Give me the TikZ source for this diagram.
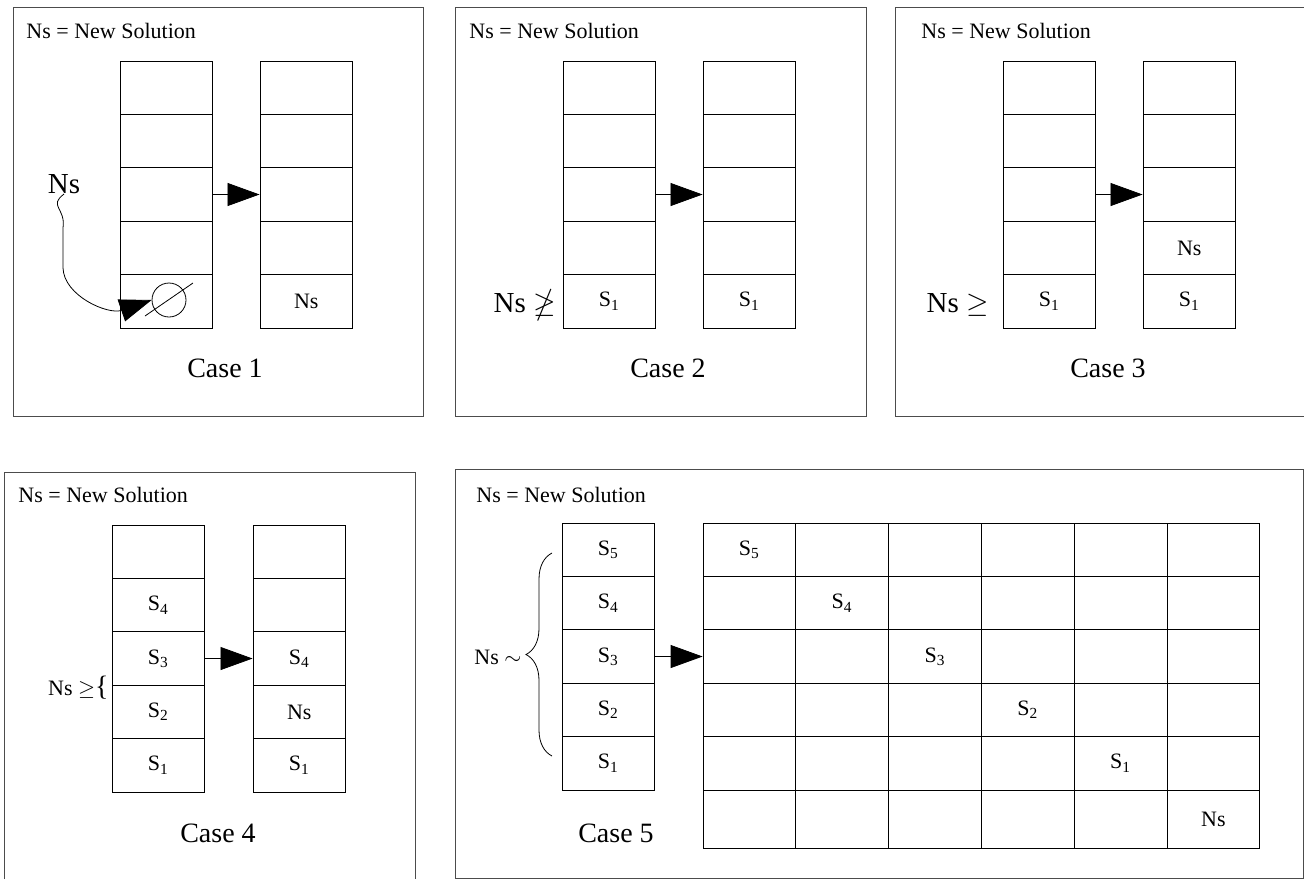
\documentclass[tikz,border=0pt]{standalone}
\usepackage{amssymb}
\usepackage{fontspec}
\setmainfont{Liberation Serif}
\usetikzlibrary{arrows.meta}
\usetikzlibrary{decorations.pathreplacing}
\tikzset{cell/.style = {draw, rectangle, minimum width = 46.3pt, minimum height = 26.7pt,
                        inner sep = 0, font = \fontsize{11}{13}\selectfont}}
\tikzset{gridcell/.style = {cell, minimum width = 46.4pt}}
\tikzset{lastcell/.style = {gridcell, minimum height = 29pt}}
\tikzset{panel/.style = {draw = black!70, line width = 0.5pt}}
\tikzset{bigarrow/.style = {-{Triangle[length = 16pt, width = 11.5pt]}}}
\tikzset{head/.style = {anchor = base west, inner sep = 0, font = \fontsize{11}{13}\selectfont}}
\tikzset{case/.style = {anchor = base, inner sep = 0, font = \fontsize{14}{16}\selectfont}}
\tikzset{bigtxt/.style = {inner sep = 0, font = \fontsize{14.5}{17}\selectfont}}
\newcommand{\Sx}[1]{S\textsubscript{#1}}
\newcommand{\stackcol}[4]{%
  \foreach \lbl [count = \i] in {#4}
    \node [cell] (#1-\i) at ({#2 + 46.25}, {#3 + (\i - 0.5) * 53.4}) {\lbl};
}

\begin{document}
\begin{tikzpicture}[x = 0.5pt, y = -0.5pt]
           \useasboundingbox (0, 0) rectangle (1304, 879);

           % frames
           \draw [panel] (13, 7) rectangle (423, 416);
           \draw [panel] (455, 7) rectangle (866, 416);
           \draw [panel] (1304, 7) -- (895, 7) -- (895, 416) -- (1304, 416);
           \draw [panel] (4, 879) -- (4, 472) -- (415, 472) -- (415, 879);
           \draw [panel] (455, 469) rectangle (1303, 878);

           \node [head] (h1) at (26, 38) {Ns = New Solution};
           \node [head] (h2) at (469, 38) {Ns = New Solution};
           \node [head] (h3) at (921, 38) {Ns = New Solution};
           \node [head] (h4) at (18, 502) {Ns = New Solution};
           \node [head] (h5) at (476, 502) {Ns = New Solution};

           % case 1
           \stackcol{p1a}{120}{61}{{}, {}, {}, {}, {}}
           \stackcol{p1b}{260}{61}{{}, {}, {}, {}, Ns}
           \draw [bigarrow] (p1a-3.east) -- (p1b-3.west);
           \node [circle, draw, minimum size = 17pt, inner sep = 0] (nul) at (169, 300) {};
           \draw (145, 316) -- (193, 283);
           \node [bigtxt] (nsbig) at (64, 184) {Ns};
           \draw [bigarrow] (nsbig.south) .. controls (48, 206) and (66, 208) .. (63, 228)
                 -- (63, 268) .. controls (64, 296) and (108, 315) .. (nul.west);
           \node [case] (c1) at (225, 377) {Case 1};

           % case 2
           \stackcol{p2a}{563}{61}{{}, {}, {}, {}, \Sx{1}}
           \stackcol{p2b}{703}{61}{{}, {}, {}, {}, \Sx{1}}
           \draw [bigarrow] (p2a-3.east) -- (p2b-3.west);
           \node [bigtxt, anchor = base east] (ng2) at (556, 312) {Ns $\ngeq$};
           \node [case] (c2) at (668, 377) {Case 2};

           % case 3
           \stackcol{p3a}{1003}{61}{{}, {}, {}, {}, \Sx{1}}
           \stackcol{p3b}{1143}{61}{{}, {}, {}, Ns, \Sx{1}}
           \draw [bigarrow] (p3a-3.east) -- (p3b-3.west);
           \node [bigtxt, anchor = base east] (ng3) at (989, 312) {Ns $\geq$};
           \node [case] (c3) at (1108, 377) {Case 3};

           % case 4
           \stackcol{p4a}{112}{525}{{}, \Sx{4}, \Sx{3}, \Sx{2}, \Sx{1}}
           \stackcol{p4b}{253}{525}{{}, {}, \Sx{4}, Ns, \Sx{1}}
           \draw [bigarrow] (p4a-3.east) -- (p4b-3.west);
           \node [head, anchor = base east] (ng4) at (109, 695) {Ns $\geq${\fontsize{14}{14}\selectfont\{}};
           \node [case] (c4) at (218, 842) {Case 4};

           % case 5
           \stackcol{p5a}{562}{523}{\Sx{5}, \Sx{4}, \Sx{3}, \Sx{2}, \Sx{1}}
           \foreach \row/\lbl in {1/\Sx{5}, 2/\Sx{4}, 3/\Sx{3}, 4/\Sx{2}, 5/\Sx{1}}
             \foreach \col in {1, ..., 6}
               \node [gridcell] (g\row\col) at ({703 + (\col - 0.5) * 92.8}, {523 + (\row - 0.5) * 53.4})
                     {\ifnum\row=\col \lbl\fi};
           \foreach \col in {1, ..., 6}
             \node [lastcell] (g6\col) at ({703 + (\col - 0.5) * 92.8}, 819) {\ifnum\col=6 Ns\fi};
           \draw [bigarrow] (p5a-3.east) -- (g31.west);
           \draw [decorate, decoration = {brace, amplitude = 13pt}] (552, 756) -- (552, 553);
           \node [head] (ng5) at (474, 664) {Ns $\sim$};
           \node [case] (c5) at (616, 842) {Case 5};
         \end{tikzpicture}
\end{document}
